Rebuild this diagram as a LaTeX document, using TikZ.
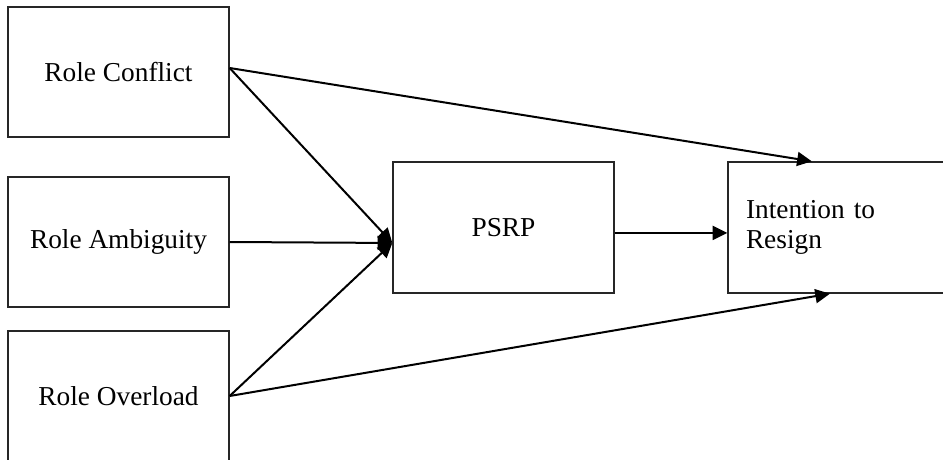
\documentclass[tikz,border=0pt]{standalone}
\usepackage{fontspec}
\setmainfont{Liberation Serif}
\usetikzlibrary{arrows.meta}

\begin{document}
\begin{tikzpicture}[x=0.75pt,y=0.75pt,yscale=-1,xscale=1,
	varbox/.style={draw=black!85, line width=1pt, rectangle, minimum width=165.75pt, minimum height=97.5pt, inner sep=0pt, font=\fontsize{20.5}{22.5}\selectfont},
	path/.style={line width=1.5pt, -{Triangle[length=11pt,width=10.5pt]}}]
				%set diagram to the size of the reference
				\clip (0,0) rectangle (943,460);
				
				% Text Node
				\node [varbox] (conflict) at (118.5,72) {Role Conflict};
				% Text Node
				\node [varbox] (ambiguity) at (118.5,242) {Role Ambiguity};
				% Text Node
				\node [varbox] (overload) at (118.5,396) {Role Overload};
				% Text Node
				\node [varbox, minimum height=98.25pt] (psrp) at (503.5,227.5) {PSRP};
				% Text Node
				\node [varbox, minimum height=98.25pt, text width=138.75pt, inner xsep=13.5pt, align=left] (resign) at (838.5,227.5) {Intention to\\Resign};
				
				%Straight Lines
				\coordinate (psrpin) at ([yshift=11.6pt]psrp.west);
				\draw [path] ([yshift=-3pt]conflict.east) -- ([xshift=-20pt]resign.north);
				%Straight Lines
				\draw [path] ([yshift=-3pt]conflict.east) -- (psrpin);
				%Straight Lines
				\draw [path] (ambiguity.east) -- (psrpin);
				%Straight Lines
				\draw [path] (overload.east) -- (psrpin);
				%Straight Lines
				\draw [path] (overload.east) -- ([xshift=-6.4pt]resign.south);
				%Straight Lines
				\draw [path] ([yshift=4.1pt]psrp.east) -- ([yshift=4.1pt]resign.west);
\end{tikzpicture}
\end{document}
